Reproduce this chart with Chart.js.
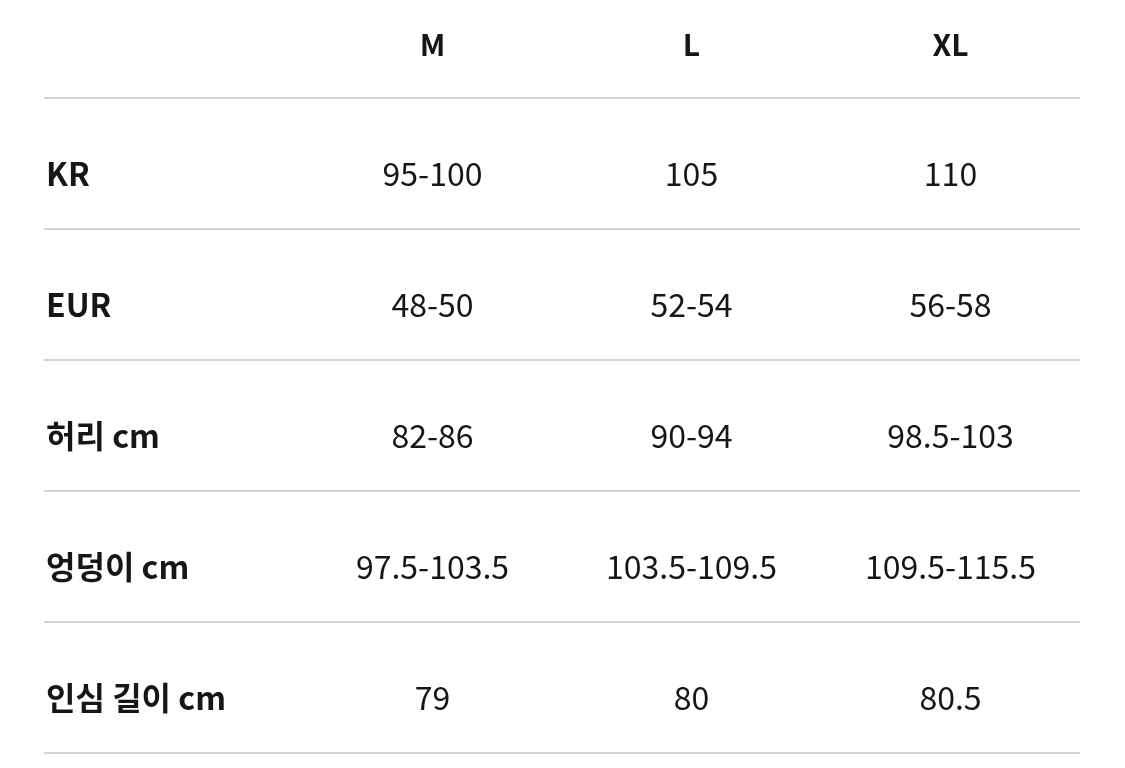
<!DOCTYPE html>
<html>
<head>
<meta charset="utf-8">
<script src="https://cdn.jsdelivr.net/npm/chart.js@4"></script>
<style>
  body { margin: 0; background: #fff; }
  #wrap { width: 1125px; height: 768px; }
</style>
</head>
<body>
<div id="wrap"><canvas id="table"></canvas></div>
<script>
// 사이즈 표 데이터
const sizes = ['M', 'L', 'XL'];
const rowLabels = ['KR', 'EUR', '허리 cm', '엉덩이 cm', '인심 길이 cm'];
const krValues = ['95-100', '105', '110'];
const eurValues = ['48-50', '52-54', '56-58'];
const waistValues = ['82-86', '90-94', '98.5-103'];
const hipValues = ['97.5-103.5', '103.5-109.5', '109.5-115.5'];
const inseamValues = ['79', '80', '80.5'];

const rows = [krValues, eurValues, waistValues, hipValues, inseamValues];
const colX = [1.5, 2.5, 3.5];     // column centres on the x scale
const headerY = -0.41;
const rowTextOffset = 0.58;

// draw the table text through the chart scales
const tableText = {
    id: 'tableText',
    afterDraw(chart) {
        const ctx = chart.ctx;
        const x = chart.scales.x, y = chart.scales.y;
        ctx.save();
        ctx.fillStyle = '#161616';
        ctx.textBaseline = 'middle';

        ctx.textAlign = 'center';
        ctx.font = 'bold 30px "Noto Sans CJK KR", "Noto Sans", sans-serif';
        sizes.forEach((s, i) => ctx.fillText(s, x.getPixelForValue(colX[i]), y.getPixelForValue(headerY)));

        rowLabels.forEach((label, r) => {
            const py = y.getPixelForValue(r + rowTextOffset);
            ctx.textAlign = 'left';
            ctx.font = 'bold 32px "Noto Sans CJK KR", "Noto Sans", sans-serif';
            ctx.fillText(label, x.getPixelForValue(0) + 2, py);
            ctx.textAlign = 'center';
            ctx.font = '32px "Noto Sans CJK KR", "Noto Sans", sans-serif';
            rows[r].forEach((v, c) => ctx.fillText(v, x.getPixelForValue(colX[c]), py));
        });
        ctx.restore();
    }
};

new Chart(document.getElementById('table'), {
    type: 'scatter',
    data: { datasets: [{ data: [] }] },
    options: {
        responsive: true,
        maintainAspectRatio: false,
        animation: false,
        layout: { padding: { left: 44, right: 45, top: 0, bottom: 15 } },
        plugins: { legend: { display: false }, tooltip: { enabled: false } },
        scales: {
            x: {
                min: 0, max: 4,
                display: false
            },
            y: {
                reverse: true,
                min: -0.75, max: 5,
                afterBuildTicks: (axis) => {
                    axis.ticks = [0, 1, 2, 3, 4, 5].map(v => ({ value: v }));
                },
                ticks: { display: false },
                grid: { color: '#d2d2d2', lineWidth: 2, drawTicks: false },
                border: { display: false }
            }
        }
    },
    plugins: [tableText]
});
</script>
</body>
</html>
